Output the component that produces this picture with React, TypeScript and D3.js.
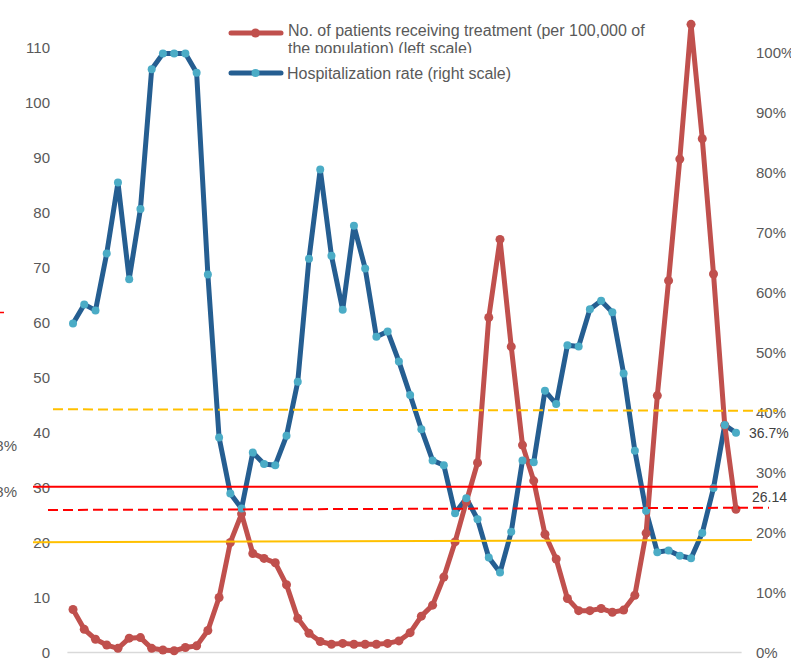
import React from "react";
import * as d3 from "d3";

// Data (60 periods)
const periods: number[] = d3.range(1, 61);

const patients: number[] = [
  7.9, 4.3, 2.5, 1.45, 0.85, 2.7, 2.8, 0.85, 0.55, 0.4,
  1.0, 1.3, 4.1, 10.1, 20.1, 25.3, 18.1, 17.2, 16.4, 12.4,
  6.3, 3.6, 2.1, 1.6, 1.75, 1.6, 1.6, 1.6, 1.75, 2.2,
  3.7, 6.7, 8.7, 13.8, 20.2, 27.5, 34.6, 61.0, 75.2, 55.7,
  37.8, 31.3, 21.6, 17.1, 9.9, 7.7, 7.7, 8.1, 7.4, 7.8,
  10.5, 21.8, 46.8, 67.7, 89.8, 114.3, 93.5, 68.9, 41.4, 26.14,
];

const hospRate: number[] = [
  54.9, 58.1, 57.1, 66.6, 78.4, 62.3, 74.0, 97.3, 99.9, 99.9,
  99.9, 96.7, 63.1, 35.9, 26.6, 24.1, 33.4, 31.5, 31.3, 36.2,
  45.2, 65.7, 80.6, 66.2, 57.2, 71.2, 64.1, 52.7, 53.6, 48.6,
  43.0, 37.3, 32.1, 31.3, 23.3, 25.8, 22.3, 15.9, 13.4, 20.2,
  32.1, 31.8, 43.7, 41.5, 51.3, 51.1, 57.3, 58.7, 56.8, 46.6,
  33.7, 23.7, 16.8, 17.1, 16.2, 15.8, 20.0, 27.5, 38.0, 36.7,
];

const leftTicks: number[] = [0, 10, 20, 30, 40, 50, 60, 70, 80, 90, 100, 110];
const rightTicks: number[] = [0, 10, 20, 30, 40, 50, 60, 70, 80, 90, 100];

const legendLabels: string[][] = [
  ["No. of patients receiving treatment (per 100,000 of", "the population) (left scale)"],
  ["Hospitalization rate (right scale)"],
];

// reference lines, values on left scale (start, end)
const refStart: number[] = [44.31, 30.24, 26.0, 20.13];
const refEnd: number[] = [44.04, 30.24, 26.42, 20.55];
const refColors: string[] = ["#FFC000", "#FF0000", "#FF0000", "#FFC000"];
const refDash: (string | null)[] = ["10,5", null, "10,5", null];
const refX0: number[] = [53, 33, 48, 33];
const refX1: number[] = [777, 758, 769, 752];

const W = 791;
const H = 663;
const yBottom = 653;
const yTop = -7;
const RED = "#C0504D";
const BLUE = "#255E91";
const CYAN = "#4BACC6";
const TXT = "#595959";
const FONT = "'Liberation Sans', Arial, sans-serif";

export default function App() {
  const x = d3.scaleBand<number>().domain(periods).range([67.4, 741.6]);
  const cx = (p: number) => (x(p) as number) + x.bandwidth() / 2;
  const yL = d3.scaleLinear().domain([0, 120]).range([yBottom, yTop]);
  const yR = d3.scaleLinear().domain([0, 110]).range([yBottom, yTop]);

  const redLine = d3
    .line<number>()
    .x((_, i) => cx(periods[i]))
    .y((d) => yL(d));
  const blueLine = d3
    .line<number>()
    .x((_, i) => cx(periods[i]))
    .y((d) => yR(d));

  return (
    <svg width={W} height={H} style={{ position: "absolute", left: 0, top: 0 }} fontFamily={FONT}>
      <defs>
        <clipPath id="legclip">
          <rect x={220} y={10} width={440} height={43} />
        </clipPath>
      </defs>
      <rect width={W} height={H} fill="#fff" />
      {/* x axis line */}
      <line x1={67.4} x2={741.6} y1={yBottom - 0.5} y2={yBottom - 0.5} stroke="#D9D9D9" strokeWidth={1.5} />

      {/* left axis labels */}
      {leftTicks.map((t) => (
        <text key={"l" + t} x={50} y={yL(t)} dy="0.35em" textAnchor="end" fontSize={15} fill={TXT}>
          {t}
        </text>
      ))}
      {/* right axis labels */}
      {rightTicks.map((t) => (
        <text key={"r" + t} x={756} y={yR(t)} dy="0.35em" textAnchor="start" fontSize={15} fill={TXT}>
          {t + "%"}
        </text>
      ))}

      {/* cut-off remnants at left edge */}
      <text x={17} y={446} dy="0.35em" textAnchor="end" fontSize={15} fill={TXT}>8%</text>
      <text x={17} y={492} dy="0.35em" textAnchor="end" fontSize={15} fill={TXT}>8%</text>
      <line x1={0} x2={4} y1={312.5} y2={312.5} stroke="#FF0000" strokeWidth={1.5} />

      {/* series lines */}
      <path d={blueLine(hospRate) || ""} fill="none" stroke={BLUE} strokeWidth={5} strokeLinejoin="round" />
      <path d={redLine(patients) || ""} fill="none" stroke={RED} strokeWidth={5} strokeLinejoin="round" />
      {/* markers */}
      {patients.map((v, i) => (
        <circle key={"rc" + i} cx={cx(periods[i])} cy={yL(v)} r={4.5} fill={RED} />
      ))}
      {hospRate.map((v, i) => (
        <circle key={"bc" + i} cx={cx(periods[i])} cy={yR(v)} r={4} fill={CYAN} />
      ))}

      {/* reference lines */}
      {refStart.map((v, i) => (
        <line
          key={"ref" + i}
          x1={refX0[i]}
          x2={refX1[i]}
          y1={yL(v)}
          y2={yL(refEnd[i])}
          stroke={refColors[i]}
          strokeWidth={2}
          strokeDasharray={refDash[i] ?? undefined}
        />
      ))}

      {/* end labels */}
      <text x={749} y={yR(hospRate[59])} dy="0.35em" fontSize={14} fill="#404040">
        {hospRate[59] + "%"}
      </text>
      <text x={752} y={497} dy="0.35em" fontSize={14} fill="#404040">
        {patients[59].toFixed(2)}
      </text>

      {/* legend */}
      <g>
        <line x1={231} x2={281} y1={33} y2={33} stroke={RED} strokeWidth={5} strokeLinecap="round" />
        <circle cx={255.5} cy={33} r={4.5} fill={RED} />
        <g clipPath="url(#legclip)">
          <text x={288} y={36} fontSize={16} fill={TXT}>
            {legendLabels[0][0]}
          </text>
          <text x={288} y={54} fontSize={16} fill={TXT}>
            {legendLabels[0][1]}
          </text>
        </g>
        <line x1={231} x2={281} y1={73} y2={73} stroke={BLUE} strokeWidth={5} strokeLinecap="round" />
        <circle cx={255.5} cy={73} r={4} fill={CYAN} />
        <text x={287} y={78.5} fontSize={16} fill={TXT}>
          {legendLabels[1][0]}
        </text>
      </g>
    </svg>
  );
}
